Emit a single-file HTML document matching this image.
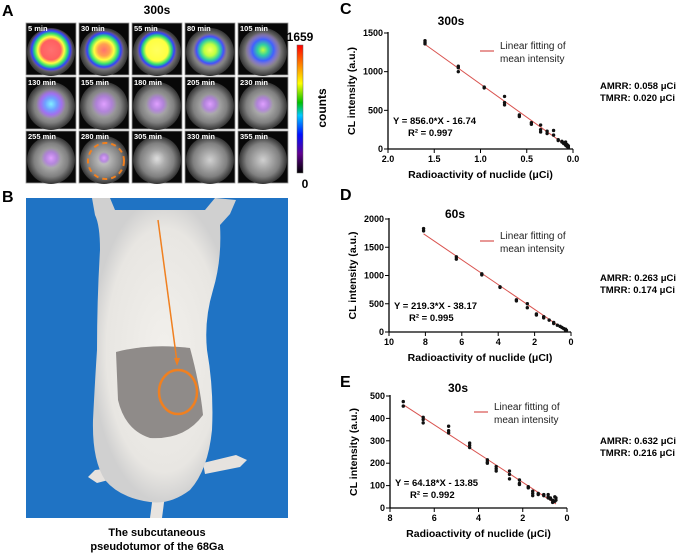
<!DOCTYPE html>
<html><head><meta charset="utf-8"><style>
body{margin:0;background:#fff;font-family:"Liberation Sans",sans-serif}
svg{display:block}
text{font-family:"Liberation Sans",sans-serif}
</style></head><body>
<svg id="fig" width="685" height="553" viewBox="0 0 685 553">
<defs>
<linearGradient id="cbar" x1="0" y1="1" x2="0" y2="0">
<stop offset="0" stop-color="#000"/><stop offset="0.15" stop-color="#60008f"/><stop offset="0.3" stop-color="#0010ff"/><stop offset="0.45" stop-color="#00c8ff"/><stop offset="0.55" stop-color="#00c000"/><stop offset="0.7" stop-color="#ffff00"/><stop offset="0.85" stop-color="#ff8000"/><stop offset="1" stop-color="#ff0000"/>
</linearGradient>
<radialGradient id="gray" cx="0.5" cy="0.5" r="0.5"><stop offset="0" stop-color="#d0d0d0"/><stop offset="0.7" stop-color="#808080"/><stop offset="1" stop-color="#333"/></radialGradient>
<radialGradient id="h5"><stop offset="0" stop-color="#ff7070"/><stop offset="0.45" stop-color="#ff6060"/><stop offset="0.6" stop-color="#ffff40"/><stop offset="0.75" stop-color="#30e070"/><stop offset="0.88" stop-color="#3040ff"/><stop offset="1" stop-color="#8040c0" stop-opacity="0"/></radialGradient>
<radialGradient id="h30"><stop offset="0" stop-color="#ff7070"/><stop offset="0.3" stop-color="#ffa050"/><stop offset="0.5" stop-color="#ffff40"/><stop offset="0.7" stop-color="#30e070"/><stop offset="0.85" stop-color="#3040ff"/><stop offset="1" stop-color="#8040c0" stop-opacity="0"/></radialGradient>
<radialGradient id="h55"><stop offset="0" stop-color="#ffff60"/><stop offset="0.55" stop-color="#ffff40"/><stop offset="0.72" stop-color="#30e070"/><stop offset="0.86" stop-color="#3040ff"/><stop offset="1" stop-color="#8040c0" stop-opacity="0"/></radialGradient>
<radialGradient id="h80"><stop offset="0" stop-color="#ffff60"/><stop offset="0.35" stop-color="#c0ff40"/><stop offset="0.6" stop-color="#30d0a0"/><stop offset="0.8" stop-color="#4050ff"/><stop offset="1" stop-color="#8040c0" stop-opacity="0"/></radialGradient>
<radialGradient id="h105"><stop offset="0" stop-color="#c0ff40"/><stop offset="0.3" stop-color="#30d0a0"/><stop offset="0.6" stop-color="#4060ff"/><stop offset="1" stop-color="#a060e0" stop-opacity="0"/></radialGradient>
<radialGradient id="h130"><stop offset="0" stop-color="#80f0ff"/><stop offset="0.4" stop-color="#70a0ff"/><stop offset="0.7" stop-color="#a070f0"/><stop offset="1" stop-color="#a060e0" stop-opacity="0"/></radialGradient>
<radialGradient id="hp"><stop offset="0" stop-color="#e0a0ff"/><stop offset="0.6" stop-color="#b070e8" stop-opacity="0.7"/><stop offset="1" stop-color="#a060e0" stop-opacity="0"/></radialGradient>
<radialGradient id="hn"><stop offset="0" stop-color="#e8e8e8" stop-opacity="0.6"/><stop offset="1" stop-color="#ccc" stop-opacity="0"/></radialGradient>
<radialGradient id="mouse"><stop offset="0" stop-color="#f2f0ec"/><stop offset="0.8" stop-color="#e8e6e2"/><stop offset="1" stop-color="#d0d0d0"/></radialGradient>
</defs>

<text x="2" y="16" font-size="16" font-weight="bold">A</text>
<text x="157" y="14" font-size="12" font-weight="bold" text-anchor="middle">300s</text>
<g id="tiles"></g>
<rect x="297" y="45" width="6" height="128" fill="url(#cbar)" stroke="#666" stroke-width="0.5"/>
<text x="300" y="41" font-size="12" font-weight="bold" text-anchor="middle">1659</text>
<text x="305" y="188" font-size="12" font-weight="bold" text-anchor="middle">0</text>
<text x="0" y="0" font-size="12" font-weight="bold" text-anchor="middle" transform="translate(326,108) rotate(-90)">counts</text>

<text x="2" y="202" font-size="16" font-weight="bold">B</text>
<g>
<rect x="26" y="198" width="262" height="320" fill="#1f73c4"/>
<path d="M203,463 L236,455 L247,460 L240,467 L205,474 Z" fill="#e6e2de"/>
<path d="M112,468 L95,470 L88,477 L97,483 L116,478 Z" fill="#e6e2de"/>
<path d="M153,495 L150,518 L162,518 L165,495 Z" fill="#e8e4e0"/>
<path d="M92,198 L110,198 L115,210 L205,210 L215,198 L236,200 L230,214 L220,225 Q222,260 213,290 Q204,320 207,350 Q214,390 212,430 Q208,470 190,490 Q170,505 150,502 Q120,498 105,480 Q92,460 93,420 Q95,380 97,350 Q97,300 100,250 Q100,225 95,215 Z" fill="url(#mouse)"/>
<path d="M116,352 Q150,343 190,348 Q200,385 203,415 Q185,440 150,438 Q125,430 118,400 Z" fill="#8f8b89"/>
<line x1="158" y1="220" x2="177" y2="362" stroke="#f08020" stroke-width="1.5"/>
<polygon points="177,366 174,358 180,358" fill="#f08020"/>
<ellipse cx="178" cy="392" rx="19" ry="22" fill="none" stroke="#f08020" stroke-width="2.5"/>
</g>
<text x="157" y="536" font-size="11" font-weight="bold" text-anchor="middle">The subcutaneous</text>
<text x="157" y="550" font-size="11" font-weight="bold" text-anchor="middle">pseudotumor of the 68Ga</text>

<g id="chartC"></g>
<g id="chartD"></g>
<g id="chartE"></g>
</svg>
<script>
const NS="http://www.w3.org/2000/svg";
function mk(p,tag,attrs,txt){const e=document.createElementNS(NS,tag);for(const k in attrs)e.setAttribute(k,attrs[k]);if(txt!==undefined)e.textContent=txt;p.appendChild(e);return e;}

const tileLabels=["5 min","30 min","55 min","80 min","105 min","130 min","155 min","180 min","205 min","230 min","255 min","280 min","305 min","330 min","355 min"];
const tileHeat=["h5","h30","h55","h80","h105","h130","hp","hp","hp","hp","hp","hp","hn","hn","hn"];
const tileHeatR=[22,20,20,17,18,15,13,11,10,10,10,6,8,0,0];
const tg=document.getElementById('tiles');
tileLabels.forEach((lab,i)=>{
  const c=i%5,r=Math.floor(i/5);const x=26+c*53,y=23+r*54;
  const g=mk(tg,'g',{});
  
  
  mk(g,'rect',{x:x,y:y,width:50,height:52,fill:'#080808',stroke:'#999','stroke-width':0.8});
  mk(g,'ellipse',{cx:x+25,cy:y+29,rx:24,ry:24,fill:'url(#gray)'});
  if(tileHeatR[i]>0) mk(g,'ellipse',{cx:x+25,cy:y+27,rx:tileHeatR[i],ry:tileHeatR[i],fill:'url(#'+tileHeat[i]+')'});
  mk(g,'text',{x:x+2,y:y+8,'font-size':7.5,'font-weight':'bold',fill:'#fff'},lab);
  if(i===11) mk(g,'circle',{cx:x+27,cy:y+30,r:18,fill:'none',stroke:'#f08020','stroke-width':2,'stroke-dasharray':'5 4'});
});

// Chart C data
const cX=[1.6,1.24,0.96,0.74,0.58,0.45,0.35,0.28,0.21,0.16,0.12,0.1,0.08,0.07,0.06,0.05];
const cY=[[1400,1380,1360],[1070,1050,1000],[800,790],[680,600,570],[440,420],[340,320],[310,250,220],[230,200],[240,180],[120,110],[100,90],[80,70],[90,50],[60,40],[50,30],[40,20]];
const cXTicks=[2.0,1.5,1.0,0.5,0.0];
const cXLabels=["2.0","1.5","1.0","0.5","0.0"];
const cYTicks=[0,500,1000,1500];
// Chart D data
const dX=[8.1,6.3,4.9,3.9,3.0,2.4,1.9,1.5,1.2,0.95,0.75,0.6,0.5,0.4,0.3,0.25];
const dY=[[1830,1790],[1330,1290],[1030,1010],[800,790],[570,550],[500,430],[320,300],[270,250],[210],[170,150],[120],[100],[80],[60],[50,30],[30]];
const dXTicks=[10,8,6,4,2,0];
const dXLabels=["10","8","6","4","2","0"];
const dYTicks=[0,500,1000,1500,2000];
// Chart E data
const eX=[7.4,6.5,5.35,4.4,3.6,3.2,2.6,2.15,1.75,1.55,1.3,1.05,0.85,0.75,0.65,0.55,0.5];
const eY=[[475,455],[405,395,380],[365,345,335],[290,280,270],[215,205,200],[185,175,165],[165,150,130],[125,110,105],[95,90],[75,65,55],[65,60],[60,55],[60,50,45],[45,40],[35,25],[50,30],[45,35]];
const eXTicks=[8,6,4,2,0];
const eXLabels=["8","6","4","2","0"];
const eYTicks=[0,100,200,300,400,500];

function chart(id,o){
  const g=document.getElementById(id);
  const sx=v=>o.x0+(o.xmax-v)/o.xmax*(o.x1-o.x0);
  const sy=v=>o.y0-v/o.ymax*(o.y0-o.y1);
  mk(g,'text',{x:o.lx,y:o.ly,'font-size':16,'font-weight':'bold'},o.letter);
  mk(g,'text',{x:o.tx,y:o.ty,'font-size':12,'font-weight':'bold','text-anchor':'middle'},o.title);
  mk(g,'line',{x1:o.x0,y1:o.y0,x2:o.x0,y2:o.y1-1,stroke:'#000','stroke-width':1.3});
  mk(g,'line',{x1:o.x0,y1:o.y0,x2:o.x1,y2:o.y0,stroke:'#000','stroke-width':1.3});
  o.yt.forEach(v=>{const y=sy(v);
    mk(g,'line',{x1:o.x0-4,y1:y,x2:o.x0,y2:y,stroke:'#000'});
    const l=mk(g,'text',{x:o.x0-5,y:y+3,'font-size':9,'font-weight':'bold','text-anchor':'end'},String(v));
    
    });
  o.xt.forEach((v,i)=>{const x=sx(v);
    mk(g,'line',{x1:x,y1:o.y0,x2:x,y2:o.y0+4,stroke:'#000'});
    const l=mk(g,'text',{x:x,y:o.y0+13,'font-size':9,'font-weight':'bold','text-anchor':'middle'},o.xl[i]);
    
    });
  const xa=mk(g,'text',{x:(o.x0+o.x1)/2,y:o.y0+29,'font-size':10.5,'font-weight':'bold','text-anchor':'middle'},o.xtitle);
  
  
  const ya=mk(g,'text',{x:0,y:0,'font-size':10.5,'font-weight':'bold','text-anchor':'middle',transform:`translate(${o.x0-33},${(o.y0+o.y1)/2}) rotate(-90)`},'CL intensity (a.u.)');
  
  
  const xs=o.X;
  const fl=mk(g,'line',{x1:sx(xs[0]),y1:sy(o.m*xs[0]+o.b),x2:sx(xs[xs.length-1]),y2:sy(Math.max(0,o.m*xs[xs.length-1]+o.b)),stroke:'#d9534f','stroke-width':1});
  
  
  xs.forEach((xv,i)=>o.Y[i].forEach(yv=>{
    const p=mk(g,'circle',{cx:sx(xv),cy:sy(yv),r:1.7,fill:'#111'});
    
    }));
  mk(g,'line',{x1:o.legx,y1:o.legy,x2:o.legx+14,y2:o.legy,stroke:'#d9534f','stroke-width':1.2});
  const lg=mk(g,'text',{x:o.legx+20,y:o.legy-2,'font-size':10,fill:'#222'},'Linear fitting of');
  
  
  mk(g,'text',{x:o.legx+20,y:o.legy+11,'font-size':10,fill:'#222'},'mean intensity');
  mk(g,'text',{x:o.x0+5,y:o.eqy,'font-size':9.5,'font-weight':'bold'},o.eq);
  mk(g,'text',{x:o.x0+20,y:o.eqy+12,'font-size':9.5,'font-weight':'bold'},o.r2);
  mk(g,'text',{x:600,y:o.ay,'font-size':9.5,'font-weight':'bold'},o.amrr);
  mk(g,'text',{x:600,y:o.ay+12,'font-size':9.5,'font-weight':'bold'},o.tmrr);
}
chart('chartC',{letter:'C',lx:340,ly:14,title:'300s',tx:451,ty:25,x0:388,x1:573,y0:149,y1:33,xmax:2,ymax:1500,yt:cYTicks,xt:cXTicks,xl:cXLabels,X:cX,Y:cY,m:856.0,b:-16.74,legx:480,legy:51,eq:'Y = 856.0*X - 16.74',r2:'R² = 0.997',eqy:124,amrr:'AMRR:  0.058 μCi',tmrr:'TMRR:  0.020 μCi',ay:89,xtitle:'Radioactivity of nuclide (μCi)'});
chart('chartD',{letter:'D',lx:340,ly:200,title:'60s',tx:455,ty:218,x0:389,x1:571,y0:332,y1:219,xmax:10,ymax:2000,yt:dYTicks,xt:dXTicks,xl:dXLabels,X:dX,Y:dY,m:219.3,b:-38.17,legx:480,legy:241,eq:'Y = 219.3*X - 38.17',r2:'R² = 0.995',eqy:309,amrr:'AMRR:  0.263 μCi',tmrr:'TMRR:  0.174 μCi',ay:281,xtitle:'Radioactivity of nuclide (μCI)'});
chart('chartE',{letter:'E',lx:340,ly:387,title:'30s',tx:458,ty:392,x0:390,x1:567,y0:508,y1:396,xmax:8,ymax:500,yt:eYTicks,xt:eXTicks,xl:eXLabels,X:eX,Y:eY,m:64.18,b:-13.85,legx:474,legy:412,eq:'Y = 64.18*X - 13.85',r2:'R² = 0.992',eqy:486,amrr:'AMRR:  0.632 μCi',tmrr:'TMRR:  0.216 μCi',ay:444,xtitle:'Radioactivity of nuclide (μCi)'});
</script>
</body></html>
